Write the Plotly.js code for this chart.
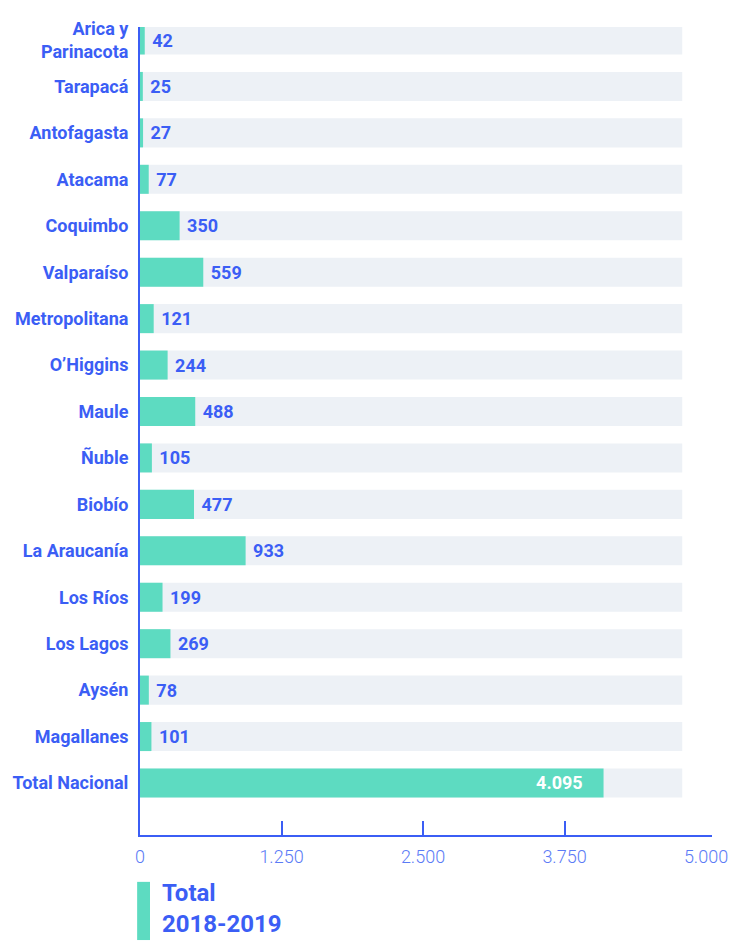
<!DOCTYPE html>
<html>
<head>
<meta charset="utf-8">
<script src="https://cdn.plot.ly/plotly-3.0.1.min.js"></script>
<style>
html,body{margin:0;padding:0;background:#fff;}
#chart{width:730px;height:941px;}
</style>
</head>
<body>
<div id="chart"></div>
<script>
const categories = ["Arica y<br>Parinacota","Tarapacá","Antofagasta","Atacama","Coquimbo","Valparaíso","Metropolitana","O’Higgins","Maule","Ñuble","Biobío","La Araucanía","Los Ríos","Los Lagos","Aysén","Magallanes","Total Nacional"];
const values = [42,25,27,77,350,559,121,244,488,105,477,933,199,269,78,101,4095];
const backgroundValue = 4790;
const tickValues = [0,1250,2500,3750,5000];
const tickMarkValues = [1250,2500,3750];
const legendLabel = "Total<br>2018-2019";

const blue = "#3b5ef5";
const green = "#5ddbc1";
const bgColor = "#edf1f6";
const last = values.length - 1;

const bgTrace = {
  type: "bar", orientation: "h",
  y: categories, x: categories.map(() => backgroundValue),
  marker: {color: bgColor}, hoverinfo: "skip", showlegend: false
};
const dataTrace = {
  type: "bar", orientation: "h",
  y: categories, x: values,
  marker: {color: green},
  texttemplate: values.map((v, i) => i === last ? "%{x:,}\u00a0\u00a0\u00a0\u00a0" : "\u00a0%{x:,}"),
  textposition: values.map((v, i) => i === last ? "inside" : "outside"),
  insidetextanchor: "end",
  constraintext: "none",
  cliponaxis: false,
  textfont: {family: "Roboto", size: 18, weight: 700, color: values.map((v, i) => i === last ? "#ffffff" : blue)},
  showlegend: false
};

const layout = {
  width: 730, height: 941,
  margin: {l: 140, r: 18, t: 27, b: 106},
  paper_bgcolor: "#fff", plot_bgcolor: "#fff",
  separators: ",.",
  barmode: "overlay",
  bargap: 0.375,
  showlegend: false,
  xaxis: {
    range: [0, 5053],
    tickvals: tickValues,
    tickformat: ",",
    showgrid: false, zeroline: false,
    showline: true, linecolor: blue, linewidth: 2,
    ticks: "",
    minor: {tickvals: tickMarkValues, ticks: "inside", ticklen: 14, tickwidth: 2, tickcolor: blue, showgrid: false},
    tickfont: {family: "Roboto", size: 18, weight: 300, color: "#5b7bf6"},
    ticklabelstandoff: 4
  },
  yaxis: {
    type: "category",
    range: [17.12, -0.28],
    showgrid: false, zeroline: false,
    showline: true, linecolor: blue, linewidth: 2,
    ticks: "",
    ticklabelstandoff: 6,
    tickfont: {family: "Roboto", size: 18, weight: 700, color: blue}
  },
  shapes: [
    {type: "rect", xref: "paper", yref: "paper", x0: -0.005, x1: 0.0175, y0: -0.130, y1: -0.058, fillcolor: green, line: {width: 0}}
  ],
  annotations: [
    {xref: "paper", yref: "paper", x: 0.036, y: -0.0905, xanchor: "left", yanchor: "middle", align: "left",
     text: "<b>" + legendLabel + "</b>", showarrow: false, borderpad: 0,
     font: {family: "Roboto", size: 24, color: blue}}
  ]
};

Plotly.newPlot("chart", [bgTrace, dataTrace], layout, {displayModeBar: false, staticPlot: true});
</script>
</body>
</html>
